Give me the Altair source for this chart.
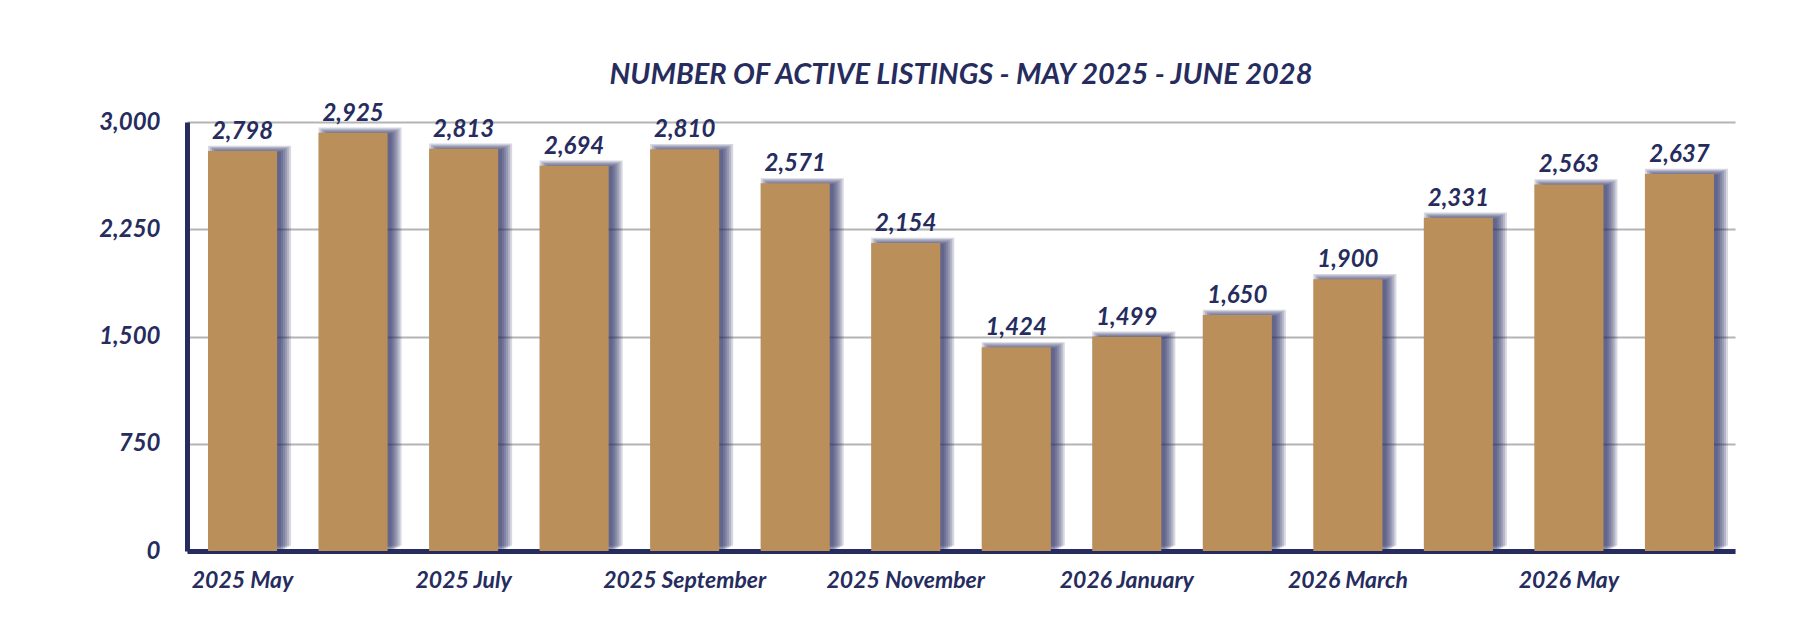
import altair as alt
import pandas as pd

months = ["2025 May", "2025 June", "2025 July", "2025 August", "2025 September",
          "2025 October", "2025 November", "2025 December", "2026 January",
          "2026 February", "2026 March", "2026 April", "2026 May", "2026 June"]
listings = [2798, 2925, 2813, 2694, 2810, 2571, 2154, 1424, 1499, 1650, 1900, 2331, 2563, 2637]
shown_labels = months[::2]
y_ticks = [0, 750, 1500, 2250, 3000]

NAVY = "#262C5E"
GOLD = "#BB8F5A"
FONT = "Lato"

df = pd.DataFrame({"month": months, "listings": listings})

x_enc = alt.X("month:N", sort=months,
              scale=alt.Scale(paddingInner=0.375, paddingOuter=0.19),
              axis=alt.Axis(title=None, values=shown_labels, labelAngle=0,
                            labelAlign="center", labelFont=FONT, labelFontSize=23,
                            labelFontWeight="bold", labelFontStyle="italic",
                            labelColor=NAVY, labelPadding=18, ticks=False,
                            domainColor=NAVY, domainWidth=5, grid=False))
y_enc = alt.Y("listings:Q", scale=alt.Scale(domain=[0, 3000], nice=False),
              axis=alt.Axis(title=None, values=y_ticks, format=",.0f",
                            labelFont=FONT, labelFontSize=24, labelFontWeight="bold",
                            labelFontStyle="italic", labelColor=NAVY, labelPadding=27,
                            ticks=False, domainColor=NAVY, domainWidth=5,
                            gridColor="#B4B4B4", gridWidth=2))

base = alt.Chart(df)

shadows = []
for s in [-3, -1, 1, 3, 5, 7]:
    shadows.append(
        base.mark_bar(color=NAVY, opacity=0.19, width=69 + 2 * s,
                      xOffset=7, yOffset=-1 - 0.6 * s)
        .encode(x=x_enc, y=y_enc)
    )

bars = base.mark_bar(color=GOLD).encode(x=x_enc, y=y_enc)
labels = base.mark_text(font=FONT, fontSize=24, fontWeight="bold", fontStyle="italic",
                        color=NAVY, baseline="alphabetic", dy=-12).encode(
    x=x_enc, y=y_enc, text=alt.Text("listings:Q", format=","))

chart = alt.layer(*shadows, bars, labels).properties(
    width=1548, height=429,
    title=alt.TitleParams("NUMBER OF ACTIVE LISTINGS - MAY 2025 - JUNE 2028",
                          font=FONT, fontSize=29, fontWeight="bold", fontStyle="italic",
                          color=NAVY, anchor="middle", offset=12),
    padding={"left": 187, "top": 122, "right": 83, "bottom": 89},
    autosize=alt.AutoSizeParams(type="none"),
    background="white",
).configure_view(stroke=None)

chart.save("out.html", embed_options={"renderer": "svg", "actions": False})
